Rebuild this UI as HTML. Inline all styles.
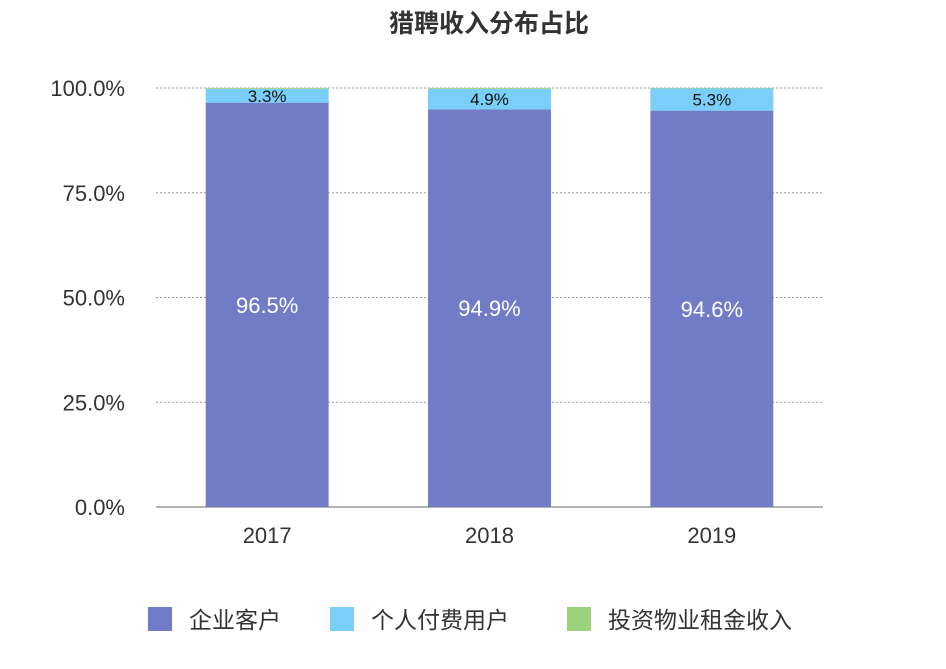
<!DOCTYPE html>
<html><head><meta charset="utf-8">
<style>
html,body{margin:0;padding:0;background:#fff;}
body{width:946px;height:664px;overflow:hidden;font-family:"Liberation Sans","Noto Sans CJK SC",sans-serif;}
</style></head>
<body>
<svg id="chart" width="946" height="664" xmlns="http://www.w3.org/2000/svg" font-family="Liberation Sans, Noto Sans CJK SC, sans-serif">
<text x="489" y="32" text-anchor="middle" font-size="25" font-weight="bold" fill="#333">猎聘收入分布占比</text>
<g id="grid"></g><g id="bars"></g><g id="labels"></g><g id="legend"></g>
</svg>
<script>
const categories = ["2017","2018","2019"];
const seriesNames = ["企业客户","个人付费用户","投资物业租金收入"];
const enterprise = [96.5,94.9,94.6];
const personal = [3.3,4.9,5.3];
const rental = [0.2,0.2,0.1];
const yTicks = [0,25,50,75,100];
const colors = ["#727cc6","#79cffa","#9dd27d"];
const NS="http://www.w3.org/2000/svg";
const x0=156,x1=823,y0=507,y1=88;
const yScale=v=>y0-(v/100)*(y0-y1);
const band=(x1-x0)/categories.length;
const xCenter=i=>x0+band*(i+0.5);
const barW=band*0.553;
function mk(tag,attrs,parent){const e=document.createElementNS(NS,tag);for(const k in attrs)e.setAttribute(k,attrs[k]);parent.appendChild(e);return e;}
const grid=document.getElementById('grid');
yTicks.forEach(t=>{
  const y=yScale(t);
  if(t>0){const l=mk('line',{x1:x0,x2:x1,y1:y,y2:y,stroke:'#999','stroke-dasharray':'2,2','stroke-width':1},grid);
  
  }
  const tx=mk('text',{x:125,y:y+8,'text-anchor':'end','font-size':22,fill:'#333'},grid);
  tx.textContent=t.toFixed(1)+'%';
  
  
});
const ax=mk('line',{x1:x0,x2:x1,y1:y0,y2:y0,stroke:'#999','stroke-width':1.5},grid);


const bars=document.getElementById('bars'),labels=document.getElementById('labels');
const series=[enterprise,personal,rental];
categories.forEach((c,i)=>{
  let base=0;
  series.forEach((s,k)=>{
    const v=s[i];
    const yt=yScale(base+v),yb=yScale(base);
    const r=mk('rect',{x:xCenter(i)-barW/2,y:yt,width:barW,height:yb-yt,fill:colors[k]},bars);
    
    
    if(k<2){
      const t=mk('text',{x:xCenter(i),y:(yt+yb)/2+(k==0?8:6),'text-anchor':'middle','font-size':k==0?22:17,fill:k==0?'#fff':'#111'},labels);
      t.textContent=v.toFixed(1)+'%';
      
      
    }
    base+=v;
  });
  const xt=mk('text',{x:xCenter(i),y:543,'text-anchor':'middle','font-size':22,fill:'#333'},labels);
  xt.textContent=c;
  
  
});
const lg=document.getElementById('legend');
const lx=[148,330,567];
seriesNames.forEach((n,k)=>{
  const r=mk('rect',{x:lx[k],y:607,width:24,height:24,fill:colors[k]},lg);
  
  
  const t=mk('text',{x:lx[k]+41,y:628,'font-size':23,fill:'#333'},lg);
  t.textContent=n;
  
  
});
</script>
</body></html>
